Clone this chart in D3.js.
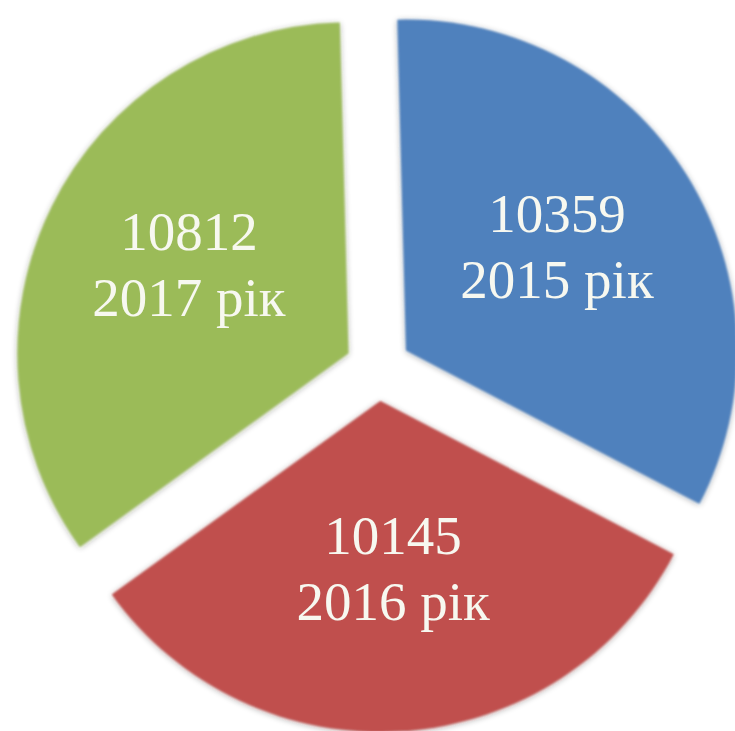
<!DOCTYPE html>
<html>
<head>
<meta charset="utf-8">
<script src="https://cdn.jsdelivr.net/npm/d3@7"></script>
<style>
  html, body { margin: 0; padding: 0; background: #fff; }
  svg { display: block; }
</style>
</head>
<body>
<svg id="chart" width="735" height="731"></svg>
<script>
// дані
const years = ["2015 рік", "2016 рік", "2017 рік"];
const values = [10359, 10145, 10812];
const colors = ["#4f81bd", "#c0504d", "#9bbb59"];

const svg = d3.select("#chart");
const cx = 378, cy = 368;      // центр діаграми
const radius = 331;
const explode = 33;           // відсунення секторів
const labelR = 178;

// м'яка тінь навколо секторів
const defs = svg.append("defs");
const f = defs.append("filter").attr("id", "soft")
  .attr("x", "-10%").attr("y", "-10%").attr("width", "120%").attr("height", "120%");
f.append("feGaussianBlur").attr("in", "SourceAlpha").attr("stdDeviation", 3).attr("result", "b");
f.append("feOffset").attr("in", "b").attr("dx", 0).attr("dy", 1).attr("result", "o");
f.append("feComponentTransfer").attr("in", "o").attr("result", "s")
  .append("feFuncA").attr("type", "linear").attr("slope", 0.35);
f.append("feGaussianBlur").attr("in", "SourceGraphic").attr("stdDeviation", 0.8).attr("result", "g");
const m = f.append("feMerge");
m.append("feMergeNode").attr("in", "s");
m.append("feMergeNode").attr("in", "g");

const pie = d3.pie().sort(null).value(d => d)
  .startAngle(-1.5 * Math.PI / 180)
  .endAngle(2 * Math.PI - 1.5 * Math.PI / 180);
const arc = d3.arc().innerRadius(0).outerRadius(radius);

const arcs = pie(values);

const g = svg.append("g").attr("transform", `translate(${cx},${cy})`);

const slice = g.selectAll("g.slice")
  .data(arcs)
  .enter()
  .append("g")
  .attr("class", "slice")
  .attr("transform", d => {
    const mid = (d.startAngle + d.endAngle) / 2;
    return `translate(${Math.sin(mid) * explode},${-Math.cos(mid) * explode})`;
  });

slice.append("path")
  .attr("d", arc)
  .attr("fill", (d, i) => colors[i])
  .attr("filter", "url(#soft)");

// підписи
slice.each(function (d, i) {
  const mid = (d.startAngle + d.endAngle) / 2;
  const x = Math.sin(mid) * labelR;
  const y = -Math.cos(mid) * labelR;
  const t = d3.select(this).append("text")
    .attr("text-anchor", "middle")
    .attr("font-family", "'Liberation Serif', 'Times New Roman', serif")
    .attr("font-size", 55)
    .attr("fill", "#f7f8f0");
  t.append("tspan").attr("x", x).attr("y", y - 24).text(values[i]);
  t.append("tspan").attr("x", x).attr("y", y + 42).text(years[i]);
});
</script>
</body>
</html>
